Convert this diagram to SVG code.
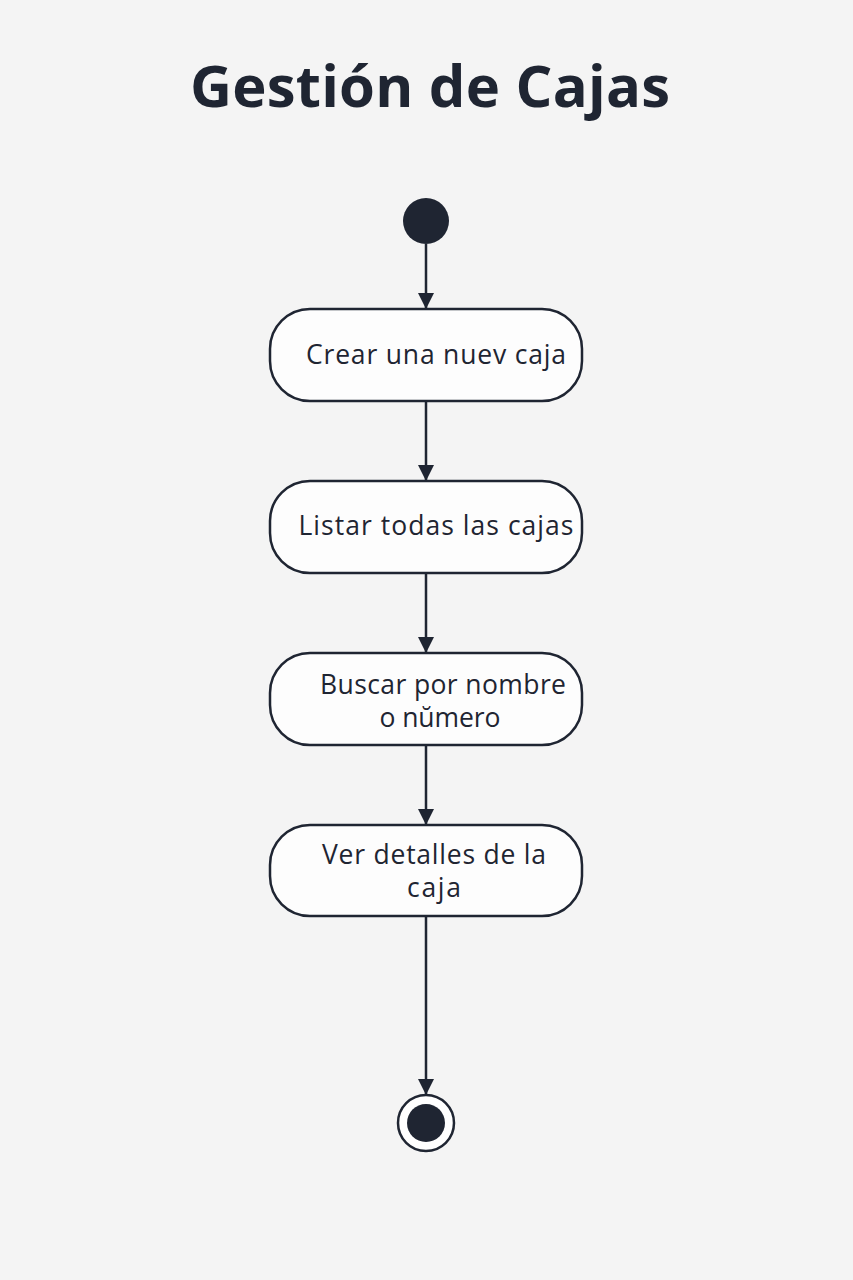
<svg xmlns="http://www.w3.org/2000/svg" width="853" height="1280" viewBox="0 0 853 1280">
<defs>
<style>
.node rect{fill:#fdfdfd;stroke:#1f2532;stroke-width:2.5}
.lbl{font-family:"Open Sans","Noto Sans",sans-serif;font-size:26.5px;fill:#1f2532;text-anchor:middle}
.edge{stroke:#1f2532;stroke-width:2.5;fill:none;marker-end:url(#arr)}
</style>
<marker id="arr" viewBox="0 0 16 16" refX="16" refY="8" markerWidth="16" markerHeight="16" markerUnits="userSpaceOnUse" orient="auto">
<path d="M0,0 L16,8 L0,16 z" fill="#1f2532"/>
</marker>
</defs>
<rect width="853" height="1280" fill="#f4f4f4"/>
<text x="430" y="107" font-family="'Open Sans','Noto Sans',sans-serif" font-weight="bold" font-size="58" fill="#1f2532" text-anchor="middle" textLength="480">Gestión de Cajas</text>
<g id="connectors">
<line class="edge" x1="426" y1="244" x2="426" y2="309"/>
<line class="edge" x1="426" y1="401" x2="426" y2="481"/>
<line class="edge" x1="426" y1="573" x2="426" y2="653"/>
<line class="edge" x1="426" y1="745" x2="426" y2="825"/>
<line class="edge" x1="426" y1="916" x2="426" y2="1095"/>
</g>
<g id="start"><circle cx="426" cy="221" r="23" fill="#1f2532"/></g>
<g id="n1" class="node"><rect x="270" y="309" width="312" height="92" rx="40"/><text class="lbl" x="436" y="364" textLength="260">Crear una nuev caja</text></g>
<g id="n2" class="node"><rect x="270" y="481" width="312" height="92" rx="40"/><text class="lbl" x="436" y="535" textLength="275">Listar todas las cajas</text></g>
<g id="n3" class="node"><rect x="270" y="653" width="312" height="92" rx="40"/><text class="lbl" x="443" y="694" textLength="246">Buscar por nombre</text><text class="lbl" x="440" y="727" textLength="121">o nŭmero</text></g>
<g id="n4" class="node"><rect x="270" y="825" width="312" height="91" rx="40"/><text class="lbl" x="434" y="864" textLength="224">Ver detalles de la</text><text class="lbl" x="434" y="897" textLength="54">caja</text></g>
<g id="end"><circle cx="426" cy="1123" r="28" fill="#ffffff" stroke="#1f2532" stroke-width="2.5"/><circle cx="426" cy="1123" r="19" fill="#1f2532"/></g>
</svg>
